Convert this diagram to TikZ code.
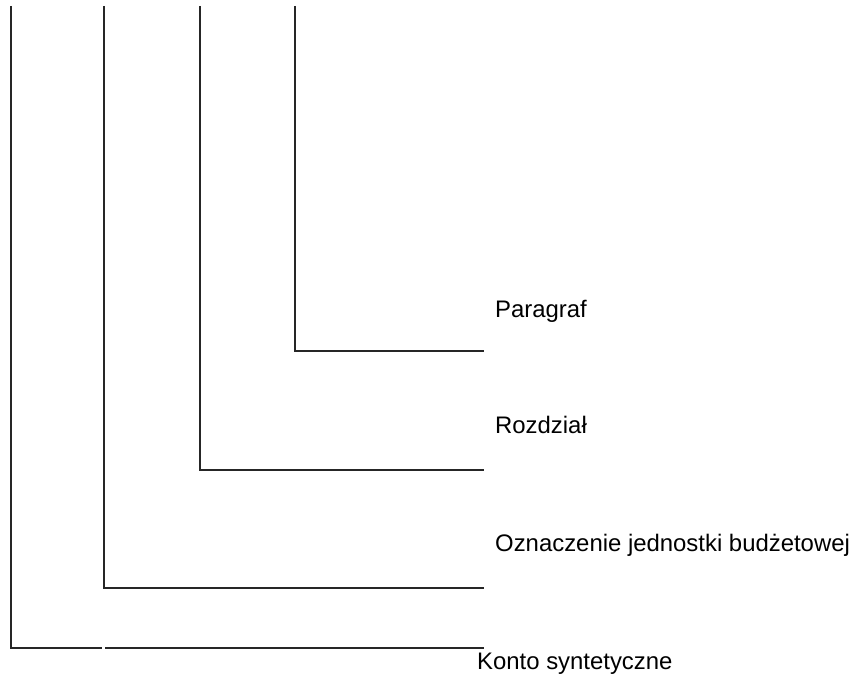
\documentclass[tikz,border=0pt]{standalone}
\usepackage{fontspec}
\setmainfont{Liberation Sans}
\usetikzlibrary{positioning}

\begin{document}
\begin{tikzpicture}
  [
    x = 1pt, y = -1pt,
    line/.style = {line width = 1.8pt, black!85},
    label/.style = {rectangle, anchor = west, inner sep = 0pt,
                    font = \fontsize{23.9}{28}\selectfont},
  ]
  \useasboundingbox (0,0) rectangle (855,679);

  % tops of the four lines
  \coordinate (top_konto) at (11,6);
  \coordinate (top_jedn) at (104,6);
  \coordinate (top_rozdz) at (200,6);
  \coordinate (top_par) at (295,6);

  % corners and right ends
  \coordinate (corner_konto) at (11,648);
  \coordinate (gap_left) at (102,648);
  \coordinate (gap_right) at (105,648);
  \coordinate (end_konto) at (484,648);
  \coordinate (corner_jedn) at (104,588);
  \coordinate (end_jedn) at (484,588);
  \coordinate (corner_rozdz) at (200,470);
  \coordinate (end_rozdz) at (484,470);
  \coordinate (corner_par) at (295,351);
  \coordinate (end_par) at (484,351);

  \draw[line] (top_konto) -- (corner_konto) -- (gap_left);
  \draw[line] (gap_right) -- (end_konto);
  \draw[line] (top_jedn) -- (corner_jedn) -- (end_jedn);
  \draw[line] (top_rozdz) -- (corner_rozdz) -- (end_rozdz);
  \draw[line] (top_par) -- (corner_par) -- (end_par);

  \node[label] (paragraf) at (495,311) {Paragraf};
  \node[label] (rozdzial) at (495,425) {Rozdział};
  \node[label] (jednostka) at (495,545) {Oznaczenie jednostki budżetowej};
  \node[label] (konto) at (477,664) {Konto syntetyczne};
\end{tikzpicture}
\end{document}
